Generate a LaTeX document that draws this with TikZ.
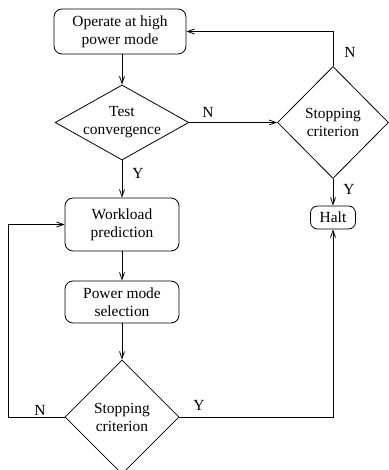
\documentclass[tikz,border=0pt]{standalone}
\usepackage{fontspec}
\setmainfont{Liberation Serif}
\usetikzlibrary{shapes.geometric,arrows.meta}
\begin{document}
\begin{tikzpicture}[x=1bp,y=-1bp,
  every node/.style={font=\fontsize{15.5}{18}\selectfont},
  rbox/.style={draw,rounded corners=8bp,align=center,inner sep=0pt,line width=0.8bp},
  dbox/.style={draw,diamond,align=center,inner sep=0pt,line width=0.8bp},
  arr/.style={line width=0.8bp,-{Straight Barb[length=7bp,width=5bp]}},
  lbl/.style={inner sep=0pt}]
\useasboundingbox (0,0) rectangle (388,470);
\node[rbox,minimum width=132bp,minimum height=45bp] (op) at (120,31.5) {Operate at high\\power mode};
\node[dbox,minimum width=132bp,minimum height=74bp,aspect=1.78] (tc) at (122,122.5) {Test\\convergence};
\node[dbox,minimum width=111bp,minimum height=112bp] (s1) at (333,122.5) {Stopping\\criterion};
\node[rbox,minimum width=45bp,minimum height=23bp,rounded corners=7bp] (halt) at (333,217.5) {Halt};
\node[rbox,minimum width=114bp,minimum height=53bp] (wp) at (122,224.5) {Workload\\prediction};
\node[rbox,minimum width=114bp,minimum height=42bp] (pm) at (122,302) {Power mode\\selection};
\node[dbox,minimum width=114bp,minimum height=114bp] (s2) at (122,417) {Stopping\\criterion};
\coordinate (l1) at (8,417);
\coordinate (l2) at (8,224.5);
\coordinate (r1) at (333,417);
\coordinate (t1) at (333,31.5);
\draw[arr] (op.south -| tc.north) -- (tc.north);
\draw[arr] (tc.east) -- (s1.west);
\draw[arr] (s1.north) -- (t1) -- (op.east);
\draw[arr] (s1.south) -- (halt.north);
\draw[arr] (tc.south) -- (wp.north);
\draw[arr] (wp.south) -- (pm.north);
\draw[arr] (pm.south) -- (s2.north);
\draw[arr] (s2.west) -- (l1) -- (l2) -- (wp.west);
\draw[arr] (s2.east) -- (r1) -- (halt.south);
\node[lbl] (n1) at (208,112) {N};
\node[lbl] (y1) at (138,173) {Y};
\node[lbl] (n2) at (350,52) {N};
\node[lbl] (y2) at (349,189) {Y};
\node[lbl] (n3) at (40,410) {N};
\node[lbl] (y3) at (199,405) {Y};
\end{tikzpicture}
\end{document}
